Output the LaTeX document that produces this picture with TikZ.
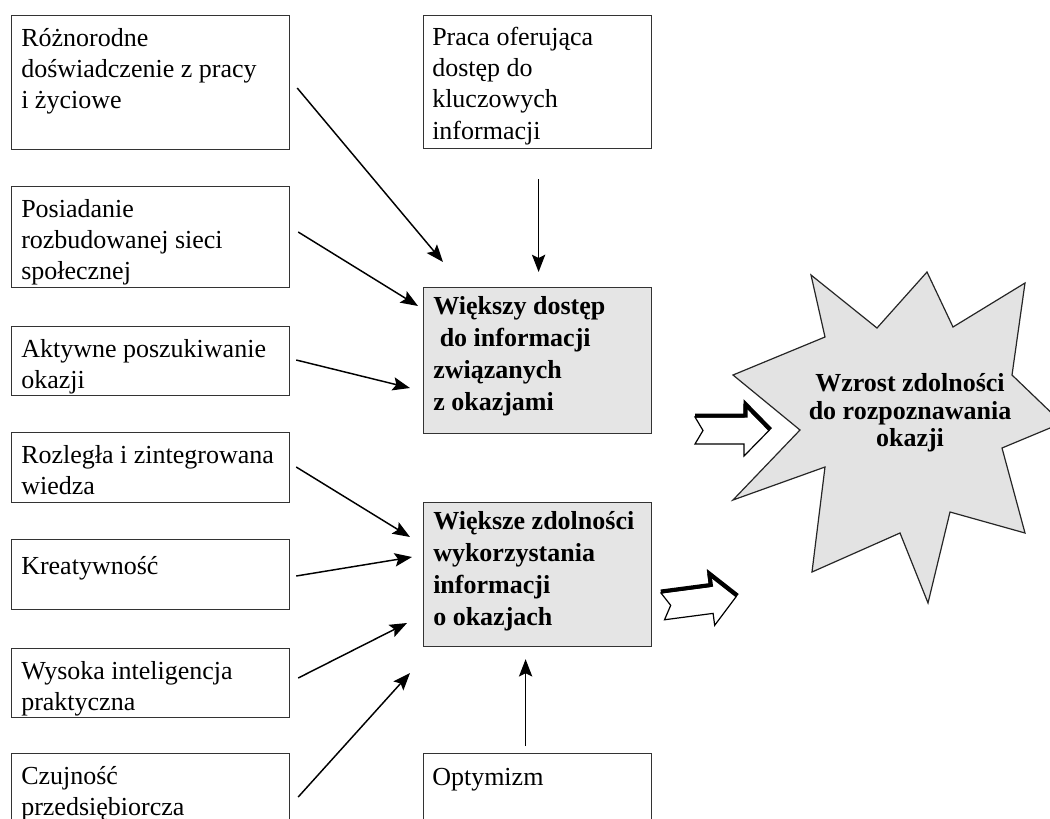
\documentclass[tikz,border=0pt]{standalone}
\usepackage{fontspec}
\setmainfont{Liberation Serif}
\usetikzlibrary{arrows.meta,calc}

\begin{document}
\begin{tikzpicture}[x=0.75pt,y=-0.75pt,
  box/.style={draw=black!80, line width=0.9pt, inner sep=0pt, anchor=north west,
              minimum width=208.5pt},
  midbox/.style={box, minimum width=171pt},
  hlbox/.style={midbox, fill=gray!20},
  txt/.style={anchor=north west, inner sep=0pt, align=left,
              font=\fontsize{19.5}{23.4}\selectfont,
              execute at begin node={\rule{0pt}{16.5pt}}},
  btxt/.style={txt, font=\fontsize{19.5}{24}\selectfont\bfseries},
  conn/.style={line width=1.1pt, -{Stealth[length=13pt,width=10pt,inset=2.5pt]}},
  hollowarrow/.pic={
    \draw[line width=0.9pt, fill=white, line join=miter]
      (0,0) -- (49,0) -- (49,-12) -- (74,13.5) -- (49,39) -- (49,27)
      -- (0,27) -- (8,13.5) -- cycle;
    \draw[line width=3pt, line join=miter]
      (0,-1.5) -- (50.5,-1.5) -- (50.5,-13) -- (75.5,12.5);
  },
]
\useasboundingbox (0,0) rectangle (1050,818);
\fill[white] (0,0) rectangle (1050,818);
\clip (0,0) rectangle (1050,818);

% left column of factors
\node[box, minimum height=100.5pt] (b1) at (11,15) {};
\node[box, minimum height=75.75pt] (b2) at (11,186) {};
\node[box, minimum height=51.75pt] (b3) at (11,326) {};
\node[box, minimum height=52.5pt]  (b4) at (11,432) {};
\node[box, minimum height=52.5pt]  (b5) at (11,539) {};
\node[box, minimum height=51.75pt] (b6) at (11,648) {};
\node[box, minimum height=70pt]    (b7) at (11,753) {};

\node[txt] (b1t) at ($(b1.north west)+(10,13)$) {Różnorodne\\doświadczenie z pracy\\i życiowe};
\node[txt] (b2t) at ($(b2.north west)+(10,13)$) {Posiadanie\\rozbudowanej sieci\\społecznej};
\node[txt] (b3t) at ($(b3.north west)+(10,13)$) {Aktywne poszukiwanie\\okazji};
\node[txt] (b4t) at ($(b4.north west)+(10,13)$) {Rozległa i zintegrowana\\wiedza};
\node[txt] (b5t) at ($(b5.north west)+(10,13)$) {Kreatywność};
\node[txt] (b6t) at ($(b6.north west)+(10,13)$) {Wysoka inteligencja\\praktyczna};
\node[txt] (b7t) at ($(b7.north west)+(10,13)$) {Czujność\\przedsiębiorcza};

% middle column
\node[midbox, minimum height=99.75pt] (t)  at (423,15)  {};
\node[hlbox,  minimum height=109.5pt] (g1) at (423,287) {};
\node[hlbox,  minimum height=108pt]   (g2) at (423,502) {};
\node[midbox, minimum height=70pt]    (o)  at (423,753) {};

\node[txt]  (tt)  at ($(t.north west)+(9,12)$)  {Praca oferująca\\dostęp do\\kluczowych\\informacji};
\node[btxt] (g1t) at ($(g1.north west)+(10,9.5)$) {Większy dostęp\\\hspace*{0.25em}do informacji\\związanych\\z okazjami};
\node[btxt] (g2t) at ($(g2.north west)+(10,9.5)$) {Większe zdolności\\wykorzystania\\informacji\\o okazjach};
\node[txt]  (ot)  at ($(o.north west)+(9,10)$)  {Optymizm};

% connectors into the access box
\draw[conn] ($(b1.north east)+(7,73)$) -- ($(g1.north west)+(20,-25)$);
\draw[conn] ($(b2.north east)+(8,46)$) -- ($(g1.north west)+(-5,19)$);
\draw[conn] ($(b3.north east)+(6,34)$) -- ($(g1.north west)+(-13,101)$);
\draw[conn] ($(t.south)+(1,30)$) -- ($(g1.north)+(1,-15)$);

% connectors into the ability box
\draw[conn] ($(b4.north east)+(6,35)$) -- ($(g2.north west)+(-13,35)$);
\draw[conn] ($(b5.north east)+(6,37)$) -- ($(g2.north west)+(-11,55)$);
\draw[conn] ($(b6.north east)+(8,30)$) -- ($(g2.north west)+(-16,121)$);
\draw[conn] ($(b7.north east)+(8,44)$) -- ($(g2.north west)+(-13,171)$);
\draw[conn] ($(o.north)+(-12,-7)$) -- ($(g2.south)+(-12,12)$);

% outcome burst
\draw[fill=gray!22, draw=black!85, line width=0.9pt, line join=miter]
  (811,275) -- (877,328) -- (927,272) -- (953,327) -- (1025,283) -- (1012,375)
  -- (1062,423) -- (1002,448) -- (1025,533) -- (950,512) -- (928,603)
  -- (900,533) -- (812,572) -- (825,467) -- (733,500) -- (800,430)
  -- (733,375) -- (825,337) -- cycle;
\node[align=center, inner sep=0pt, font=\fontsize{19.5}{20.5}\selectfont\bfseries]
  (res) at (910,413) {Wzrost zdolności\\do rozpoznawania\\okazji};

% block arrows towards the outcome
\pic at (695,417) {hollowarrow};
\pic[rotate=7.5] at (661,593) {hollowarrow};
\end{tikzpicture}
\end{document}
